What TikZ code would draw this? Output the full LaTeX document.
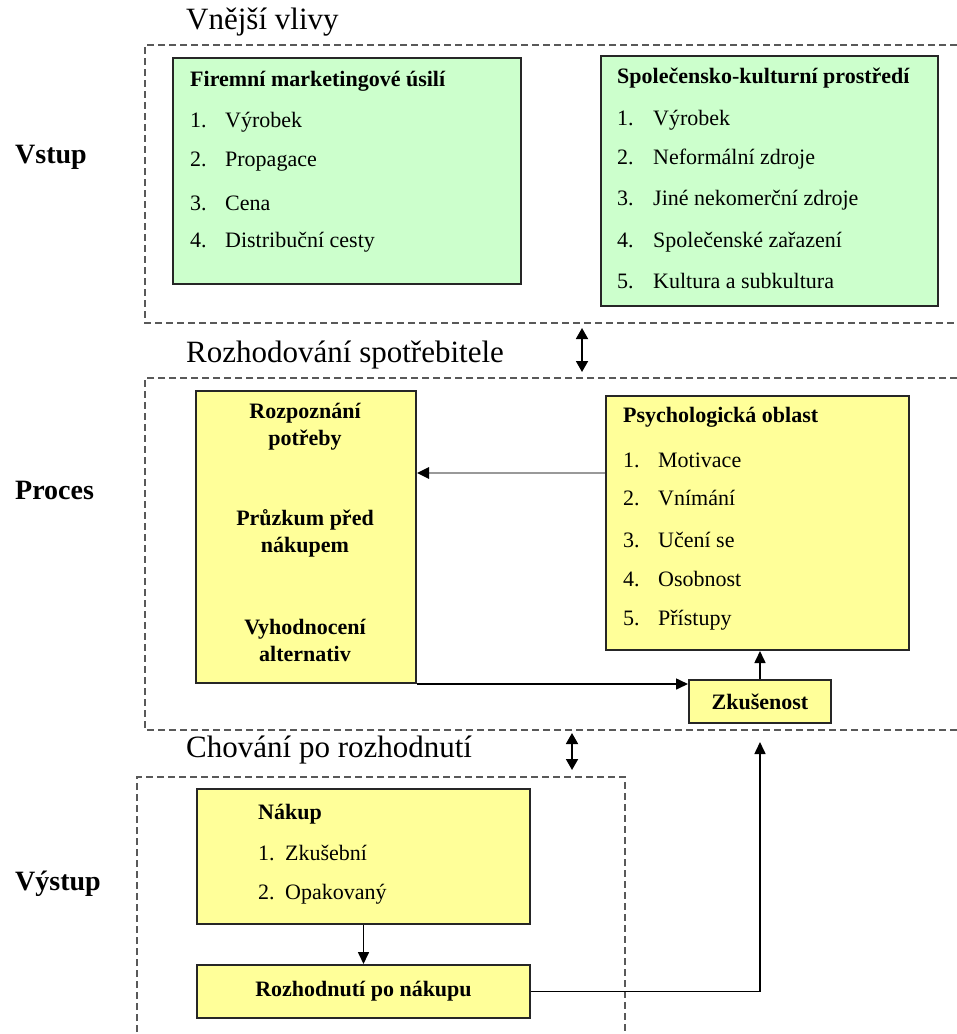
\documentclass[tikz,border=0pt]{standalone}
\usepackage{fontspec}
\setmainfont{Liberation Serif}
\usetikzlibrary{arrows.meta}
\definecolor{zelena}{HTML}{CCFFCC}
\definecolor{zluta}{HTML}{FFFF99}
\newcommand{\cis}[2]{\makebox[#1][l]{#2}}
\begin{document}
\begin{tikzpicture}[x=1pt,y=-1pt,
  ram/.style={draw=black!65,line width=1.4pt,dash pattern=on 7pt off 4pt},
  box/.style={draw=black!85,line width=2pt,anchor=north west,inner sep=0pt},
  txt/.style={font=\fontsize{22}{26}\selectfont,anchor=west,inner sep=0pt},
  tit/.style={font=\fontsize{22}{27}\selectfont\bfseries,inner sep=0pt},
  nad/.style={font=\fontsize{31}{34}\selectfont,anchor=west,inner sep=0pt},
  str/.style={font=\fontsize{28}{32}\selectfont\bfseries,anchor=west,inner sep=0pt},
  sip/.style={-{Triangle[length=12pt,width=11pt,color=black]},line width=1.6pt},
  obou/.style={{Triangle[length=11pt,width=12pt]}-{Triangle[length=11pt,width=12pt]},line width=1.8pt}]
\useasboundingbox (0,0) rectangle (957,1034);
\draw[ram] (957,45) -- (145,45) -- (145,323) -- (957,323);
\draw[ram] (957,378) -- (145,378) -- (145,730) -- (957,730);
\draw[ram] (137,1032) -- (137,777) -- (625,777) -- (625,1032);
\node[nad] (vnejsi) at (186,22) {Vnější vlivy};
\node[nad] (rozhod) at (186,355) {Rozhodování spotřebitele};
\node[nad] (chovani) at (186,750) {Chování po rozhodnutí};
\node[str] (vstup) at (15,157) {Vstup};
\node[str] (proces) at (15,490) {Proces};
\node[str] (vystup) at (15,884) {Výstup};
\node[box,fill=zelena,minimum width=348pt,minimum height=226pt] (firma) at (172,57) {};
\node[tit,anchor=west] (firmat) at (190,81) {Firemní marketingové úsilí};
\node[txt] (f1) at (190,122) {\cis{35pt}{1.}Výrobek};
\node[txt] (f2) at (190,162) {\cis{35pt}{2.}Propagace};
\node[txt] (f3) at (190,203) {\cis{35pt}{3.}Cena};
\node[txt] (f4) at (190,242) {\cis{35pt}{4.}Distribuční cesty};
\node[box,fill=zelena,minimum width=337pt,minimum height=250pt] (spol) at (600,55) {};
\node[tit,anchor=west] (spolt) at (617,78) {Společensko-kulturní prostředí};
\node[txt] (s1) at (617,120) {\cis{36pt}{1.}Výrobek};
\node[txt] (s2) at (617,159) {\cis{36pt}{2.}Neformální zdroje};
\node[txt] (s3) at (617,200) {\cis{36pt}{3.}Jiné nekomerční zdroje};
\node[txt] (s4) at (617,242) {\cis{36pt}{4.}Společenské zařazení};
\node[txt] (s5) at (617,281) {\cis{36pt}{5.}Kultura a subkultura};
\node[box,fill=zluta,minimum width=220pt,minimum height=292pt] (proc) at (195,390) {};
\node[tit,align=center] (p1) at (305,427) {Rozpoznání\\potřeby};
\node[tit,align=center] (p2) at (305,533) {Průzkum před\\nákupem};
\node[tit,align=center] (p3) at (305,640) {Vyhodnocení\\alternativ};
\node[box,fill=zluta,minimum width=303pt,minimum height=254pt] (psych) at (605,395) {};
\node[tit,anchor=west] (psycht) at (623,417) {Psychologická oblast};
\node[txt] (m1) at (623,460) {\cis{35pt}{1.}Motivace};
\node[txt] (m2) at (623,498) {\cis{35pt}{2.}Vnímání};
\node[txt] (m3) at (623,540) {\cis{35pt}{3.}Učení se};
\node[txt] (m4) at (623,579) {\cis{35pt}{4.}Osobnost};
\node[txt] (m5) at (623,620) {\cis{35pt}{5.}Přístupy};
\node[box,fill=zluta,minimum width=142pt,minimum height=43pt,tit] (zkus) at (688,679) {Zkušenost};
\node[box,fill=zluta,minimum width=333pt,minimum height=135pt] (nakup) at (196,788) {};
\node[tit,anchor=west] (nakupt) at (258,814) {Nákup};
\node[txt] (n1) at (258,853) {\cis{27pt}{1.}Zkušební};
\node[txt] (n2) at (258,894) {\cis{27pt}{2.}Opakovaný};
\node[box,fill=zluta,minimum width=333pt,minimum height=53pt,tit] (rozh) at (196,964) {Rozhodnutí po nákupu};
\coordinate (a1) at (582,328);
\coordinate (a2) at (582,372);
\coordinate (b1) at (572,733);
\coordinate (b2) at (572,770);
\draw[obou] (a1) -- (a2);
\draw[obou] (b1) -- (b2);
\coordinate (g) at ([yshift=50pt]psych.west);
\draw[sip,draw=black!40,line width=2.6pt] (g) -- (g -| proc.east);
\draw[sip] (proc.south east) -- (proc.south east -| zkus.west);
\draw[sip] (zkus.north) -- (zkus.north |- psych.south);
\draw[sip] (nakup.south) -- (rozh.north);
\draw[sip] (rozh.east) -- (rozh.east -| zkus.south) -- ([yshift=-18pt]zkus.south);
\end{tikzpicture}
\end{document}
